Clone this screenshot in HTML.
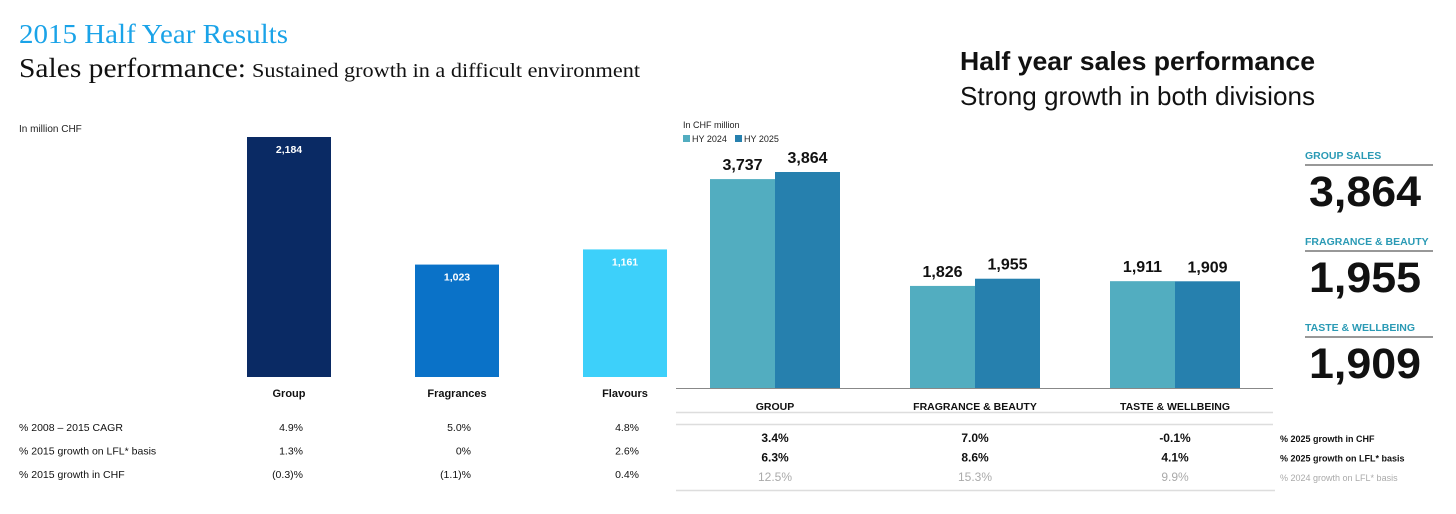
<!DOCTYPE html>
<html><head><meta charset="utf-8"><style>
html,body{margin:0;padding:0;background:#fff;width:1456px;height:514px;overflow:hidden}
svg{display:block}
.s{font-family:"Liberation Sans",sans-serif}
.r{font-family:"Liberation Serif",serif}
</style></head><body>
<svg id="c" width="1456" height="514" viewBox="0 0 1456 514">
<text class="r" x="19" y="43" font-size="27" fill="#1aa3e8" textLength="269" lengthAdjust="spacingAndGlyphs">2015 Half Year Results</text>
<text class="r" x="19" y="77" font-size="27" fill="#111" textLength="227" lengthAdjust="spacingAndGlyphs">Sales performance:</text>
<text class="r" x="252" y="77" font-size="20" fill="#111" textLength="388" lengthAdjust="spacingAndGlyphs">Sustained growth in a difficult environment</text>
<text class="s" x="19" y="132" font-size="10" fill="#222">In million CHF</text>
<g id="leftBars"></g>
<g id="leftTable"></g>

<text class="s" x="960" y="70" font-size="26" font-weight="bold" fill="#111" textLength="355" lengthAdjust="spacingAndGlyphs">Half year sales performance</text>
<text class="s" x="960" y="105" font-size="26" fill="#111" textLength="355" lengthAdjust="spacingAndGlyphs">Strong growth in both divisions</text>
<text class="s" x="683" y="128" font-size="9" fill="#222">In CHF million</text>
<g>
<rect x="683" y="135" width="7" height="7" fill="#52adc0"/>
<text class="s" x="692" y="142" font-size="9" fill="#222">HY 2024</text>
<rect x="735" y="135" width="7" height="7" fill="#2680ae"/>
<text class="s" x="744" y="142" font-size="9" fill="#222">HY 2025</text>
</g>
<g id="rightBars"></g>
<line x1="676" y1="388.5" x2="1273" y2="388.5" stroke="#888" stroke-width="1"/>
<line x1="676" y1="412.5" x2="1273" y2="412.5" stroke="#ddd" stroke-width="1.5"/>
<line x1="676" y1="424.5" x2="1273" y2="424.5" stroke="#ddd" stroke-width="1.5"/>
<line x1="676" y1="490.5" x2="1275" y2="490.5" stroke="#ddd" stroke-width="1.5"/>
<g id="rightTable"></g>
<g id="kpis"></g>
</svg>
<script>
var NS="http://www.w3.org/2000/svg";
// left chart data
var leftCats=["Group","Fragrances","Flavours"];
var leftVals=[2184,1023,1161];
var leftLabels=["2,184","1,023","1,161"];
var leftColors=["#0a2a64","#0a72c8","#3dd0fa"];
var leftRowLabels=["% 2008 \u2013 2015 CAGR","% 2015 growth on LFL* basis","% 2015 growth in CHF"];
var leftRowGroup=["4.9%","1.3%","(0.3)%"];
var leftRowFrag=["5.0%","0%","(1.1)%"];
var leftRowFlav=["4.8%","2.6%","0.4%"];
// right chart data
var rightCats=["GROUP","FRAGRANCE & BEAUTY","TASTE & WELLBEING"];
var hy2024=[3737,1826,1911];
var hy2025=[3864,1955,1909];
var hy2024Labels=["3,737","1,826","1,911"];
var hy2025Labels=["3,864","1,955","1,909"];
var rightRowLabels=["% 2025 growth in CHF","% 2025 growth on LFL* basis","% 2024 growth on LFL* basis"];
var rowChf2025=["3.4%","7.0%","-0.1%"];
var rowLfl2025=["6.3%","8.6%","4.1%"];
var rowLfl2024=["12.5%","15.3%","9.9%"];
var kpiTitles=["GROUP SALES","FRAGRANCE & BEAUTY","TASTE & WELLBEING"];
var kpiValues=["3,864","1,955","1,909"];

function mk(tag,attrs,parent,txt){var e=document.createElementNS(NS,tag);for(var k in attrs)e.setAttribute(k,attrs[k]);if(txt!=null)e.textContent=txt;parent.appendChild(e);return e;}
var lBase=377,lScale=240/2184;
function lx(i){return 247+i*168;}
function ly(v){return lBase-v*lScale;}
var gL=document.getElementById("leftBars");
leftVals.forEach(function(v,i){
  var r=mk("rect",{x:lx(i),y:ly(v),width:84,height:lBase-ly(v),fill:leftColors[i]},gL);
  
  
  var t=mk("text",{x:lx(i)+42,y:ly(v)+16,"font-size":"10.5","font-weight":"bold",fill:"#fff","text-anchor":"middle","class":"s"},gL,leftLabels[i]);
  
  
  var c=mk("text",{x:lx(i)+42,y:397,"font-size":"11","font-weight":"bold",fill:"#111","text-anchor":"middle","class":"s"},gL,leftCats[i]);
  
  
});
var gLT=document.getElementById("leftTable");
var leftCols=[leftRowGroup,leftRowFrag,leftRowFlav];
leftRowLabels.forEach(function(lab,r){
  var y=431+r*23.5;
  var t=mk("text",{x:19,y:y,"font-size":"10.5",fill:"#111","class":"s"},gLT,lab);
  
  
  leftCols.forEach(function(col,i){
    var v=mk("text",{x:303+i*168,y:y,"font-size":"10.5",fill:"#111","text-anchor":"end","class":"s"},gLT,col[r]);
    
    
  });
});
var rBase=388,rScale=216/3864;
function rx(i){return 710+i*200;}
function ry(v){return rBase-v*rScale;}
var gR=document.getElementById("rightBars");
rightCats.forEach(function(cat,i){
  var a=mk("rect",{x:rx(i),y:ry(hy2024[i]),width:65,height:rBase-ry(hy2024[i]),fill:"#52adc0"},gR);
  
  
  var b=mk("rect",{x:rx(i)+65,y:ry(hy2025[i]),width:65,height:rBase-ry(hy2025[i]),fill:"#2680ae"},gR);
  
  
  var la=mk("text",{x:rx(i)+32.5,y:ry(hy2024[i])-9,"font-size":"16","font-weight":"bold",fill:"#111","text-anchor":"middle","class":"s"},gR,hy2024Labels[i]);
  
  
  var lb=mk("text",{x:rx(i)+97.5,y:ry(hy2025[i])-9,"font-size":"16","font-weight":"bold",fill:"#111","text-anchor":"middle","class":"s"},gR,hy2025Labels[i]);
  
  
  var c=mk("text",{x:rx(i)+65,y:410,"font-size":"10.5","font-weight":"bold",fill:"#111","text-anchor":"middle","class":"s"},gR,cat);
  
  
});
var gRT=document.getElementById("rightTable");
var rightRows=[rowChf2025,rowLfl2025,rowLfl2024];
var rowColors=["#111","#111","#aaa"];
rightRows.forEach(function(row,r){
  var y=442+r*19.5;
  row.forEach(function(v,i){
    var t=mk("text",{x:rx(i)+65,y:y,"font-size":"12","font-weight":r<2?"bold":"normal",fill:rowColors[r],"text-anchor":"middle","class":"s"},gRT,v);
    
    
  });
  var l=mk("text",{x:1280,y:y,"font-size":"9","font-weight":r<2?"bold":"normal",fill:rowColors[r],"class":"s"},gRT,rightRowLabels[r]);
  
  
});
var gK=document.getElementById("kpis");
kpiTitles.forEach(function(k,i){
  var y0=159+i*86;
  var t=mk("text",{x:1305,y:y0,"font-size":"10.5","font-weight":"bold",fill:"#2a9ab5","class":"s"},gK,k);
  
  
  var ln=mk("line",{x1:1305,y1:y0+6,x2:1433,y2:y0+6,stroke:"#777","stroke-width":"1.5"},gK);
  
  
  var v=mk("text",{x:1309,y:y0+47,"font-size":"43","font-weight":"bold",fill:"#111","class":"s",textLength:"112",lengthAdjust:"spacingAndGlyphs"},gK,kpiValues[i]);
  
  
});
</script>
</body></html>
